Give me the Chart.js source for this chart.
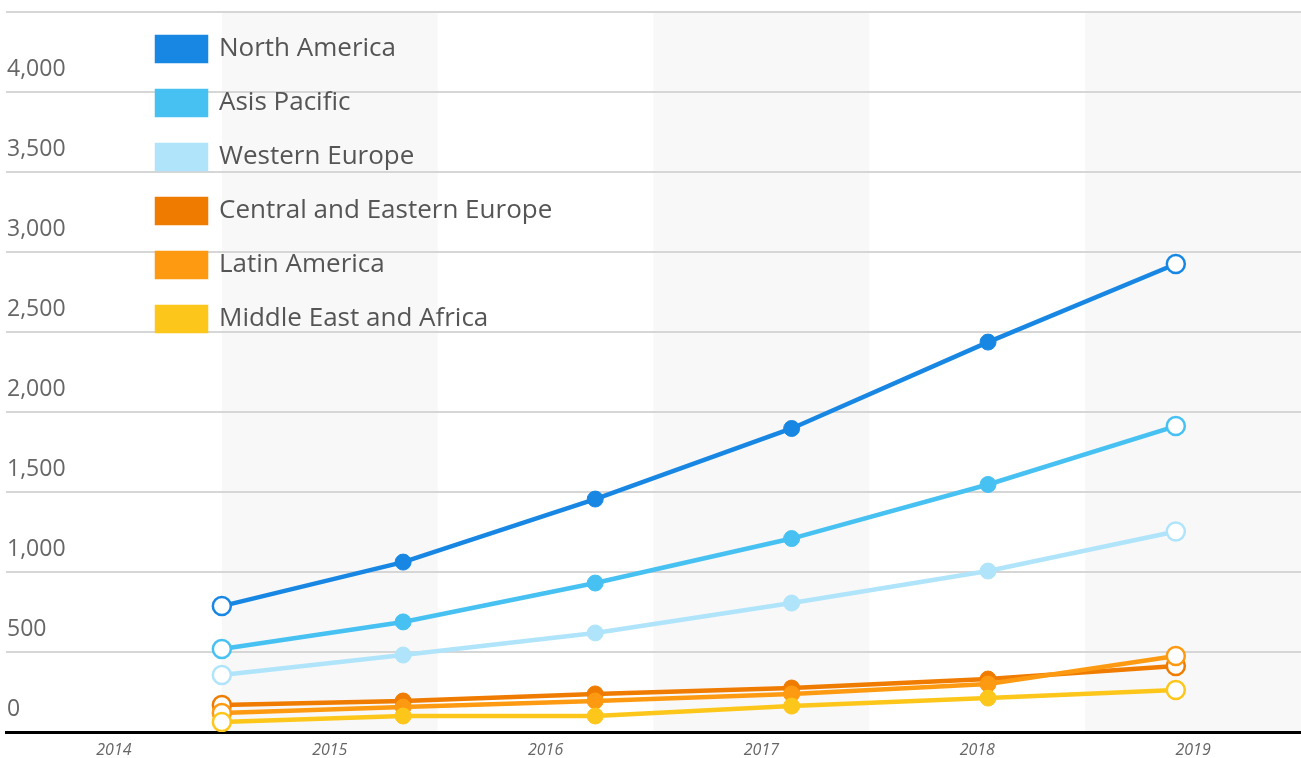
<!DOCTYPE html>
<html>
<head>
<meta charset="utf-8">
<script src="https://cdn.jsdelivr.net/npm/chart.js@4.4.1/dist/chart.umd.min.js"></script>
<style>
  html, body { margin: 0; padding: 0; background: #fff; overflow: hidden; }
  #wrap { width: 1301px; height: 758px; position: relative; }
</style>
</head>
<body>
<div id="wrap"><canvas id="chart"></canvas></div>
<script>
// Data
const yearLabels = ['2014', '2015', '2016', '2017', '2018', '2019'];
const pointYears = [2015.0, 2015.84, 2016.73, 2017.64, 2018.55, 2019.42];
const seriesNames = ['North America', 'Asis Pacific', 'Western Europe',
    'Central and Eastern Europe', 'Latin America', 'Middle East and Africa'];
const northAmerica = [787, 1062, 1456, 1897, 2437, 2925];
const asiaPacific = [519, 688, 931, 1209, 1547, 1912];
const westernEurope = [356, 481, 619, 806, 1006, 1253];
const centralEastEurope = [169, 194, 238, 275, 331, 412];
const latinAmerica = [119, 156, 194, 238, 300, 475];
const middleEastAfrica = [62, 100, 100, 162, 212, 262];

const seriesValues = [northAmerica, asiaPacific, westernEurope,
    centralEastEurope, latinAmerica, middleEastAfrica];
const seriesColors = ['#1787e3', '#46c1f2', '#b0e4fa', '#ef7c00', '#fd9a12', '#fdc61a'];

// alternating grey bands behind the plot
const bandsPlugin = {
    id: 'bands',
    beforeDraw(chart) {
        const ctx = chart.ctx;
        const x = chart.scales.x;
        const area = chart.chartArea;
        ctx.save();
        yearLabels.forEach(function(y, i) {
            if (i % 2 === 1) {
                const x1 = x.getPixelForValue(Number(y));
                const x2 = x.getPixelForValue(Number(y) + 1);
                ctx.fillStyle = '#f8f8f8';
                ctx.fillRect(x1, area.top, x2 - x1, area.bottom - area.top);
            }
        });
        ctx.restore();
    }
};

// move the legend into the plot, where the original has it
const legendShift = {
    id: 'legendShift',
    afterLayout(chart) {
        if (chart.legend) {
            chart.legend.left += 123;
            chart.legend.top += 8;
        }
    }
};

function isEnd(c, n) {
    return c.dataIndex === 0 || c.dataIndex === n - 1;
}

const datasets = seriesNames.map(function(name, i) {
    const color = seriesColors[i];
    const vals = seriesValues[i];
    return {
        label: name,
        data: vals.map(function(v, j) { return { x: pointYears[j], y: v }; }),
        borderColor: color,
        backgroundColor: color,
        borderWidth: 4.5,
        pointRadius: function(c) { return isEnd(c, vals.length) ? 9 : 8; },
        pointBorderWidth: function(c) { return isEnd(c, vals.length) ? 2.5 : 1; },
        pointBorderColor: color,
        pointBackgroundColor: function(c) { return isEnd(c, vals.length) ? '#fff' : color; },
        tension: 0,
        order: seriesNames.length - i
    };
});

document.addEventListener('DOMContentLoaded', function() {
    const ctx = document.getElementById('chart').getContext('2d');
    new Chart(ctx, {
        type: 'line',
        data: { datasets: datasets },
        plugins: [bandsPlugin, legendShift],
        options: {
            responsive: true,
            maintainAspectRatio: false,
            animation: false,
            locale: 'en-US',
            layout: { autoPadding: false, padding: { left: 6, right: 0, top: 12, bottom: 0 } },
            plugins: {
                tooltip: { enabled: false },
                title: { display: false },
                legend: {
                    position: 'chartArea',
                    align: 'start',
                    labels: {
                        sort: function(a, b) { return a.datasetIndex - b.datasetIndex; },
                        boxWidth: 49,
                        boxHeight: 24,
                        padding: 28,
                        color: '#555',
                        font: { family: 'Open Sans', size: 26 }
                    }
                }
            },
            scales: {
                x: {
                    type: 'linear',
                    min: 2014,
                    max: 2020,
                    grid: { display: false, drawTicks: false },
                    border: { display: true, color: '#000', width: 3 },
                    afterBuildTicks: function(scale) {
                        scale.ticks = yearLabels.map(function(y) { return { value: Number(y) + 0.5 }; });
                    },
                    afterFit: function(scale) {
                        scale.paddingLeft = 0;
                        scale.paddingRight = 0;
                        scale.height = 26;
                    },
                    ticks: {
                        autoSkip: false,
                        maxRotation: 0,
                        padding: 9,
                        color: '#666',
                        font: { family: 'Open Sans', size: 16, style: 'italic' },
                        callback: function(v, i) { return yearLabels[i]; }
                    }
                },
                y: {
                    min: 0,
                    max: 4500,
                    grid: { color: '#d6d6d6', lineWidth: 2, drawTicks: false },
                    border: { display: false },
                    afterFit: function(scale) {
                        scale.paddingTop = 0;
                        scale.paddingBottom = 0;
                        scale.width = 0;
                    },
                    ticks: {
                        stepSize: 500,
                        mirror: true,
                        padding: 1,
                        labelOffset: -23,
                        color: '#666',
                        font: { family: 'Open Sans', size: 23 },
                        callback: function(v) { return v > 4000 ? '' : v.toLocaleString('en-US'); }
                    }
                }
            }
        }
    });
});
</script>
</body>
</html>
